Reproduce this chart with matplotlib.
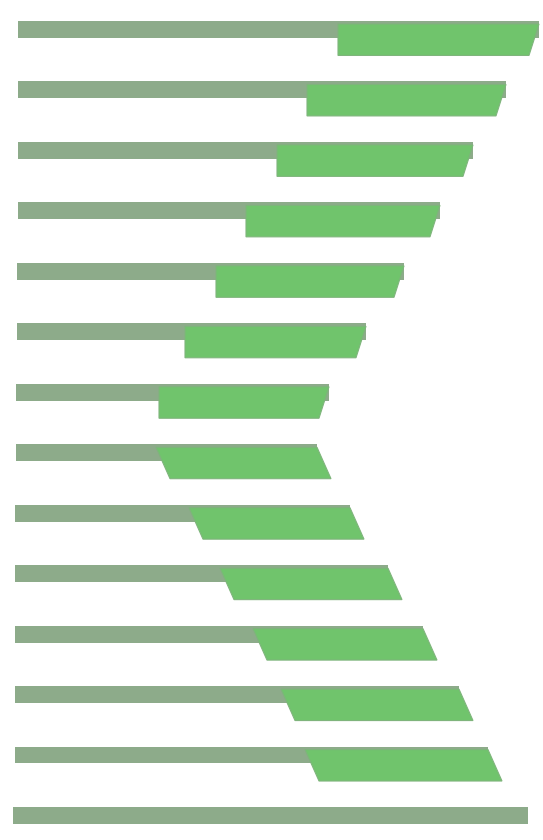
import numpy as np
import matplotlib.pyplot as plt

# one row per bar, top to bottom (x in image-width units, 0..543)
line_start = [18, 18, 18, 18, 17, 17, 16, 16, 15, 15, 15, 15, 15, 13]
bar_start = [338, 307, 277, 246, 216, 185, 159, 156, 189, 220, 253, 281, 305, None]
bar_end = [539, 506, 473, 440, 404, 366, 329, 317, 350, 388, 423, 459, 488, 528]

GRAY = "#8dab8a"
GREEN = "#70c46c"
EDGE = "#7fb47c"

rows = np.arange(len(bar_end))

fig = plt.figure(figsize=(5.43, 8.40), dpi=100)
ax = fig.add_axes([0, 0, 1, 1])

line_h = 0.28   # thin grey strip
bar_top = 0.05
bar_bot = 0.57
lean = 10       # slant of the bar ends

# thin grey strips, full length
ax.barh(rows, np.array(bar_end) - np.array(line_start), left=line_start,
        height=line_h, align="edge", color=GRAY, zorder=2)

# thicker green blocks with slanted ends
for i, (s, e) in enumerate(zip(bar_start, bar_end)):
    if s is None:
        continue
    if i < 7:
        # upper half: left edge straight, right edge leans inwards
        xs = [s, e, e - lean, s]
    else:
        # lower half: both edges lean outwards at the bottom
        xs = [s, e, e + 1.4 * lean, s + 1.4 * lean]
    ys = [i + bar_top, i + bar_top, i + bar_bot, i + bar_bot]
    ax.fill(xs, ys, color=GREEN, ec=EDGE, lw=0.8, zorder=3)

ax.set_xlim(0, 543)
ax.set_ylim(13 + 33 / 60.5, -21 / 60.5)
ax.axis("off")

fig.savefig("out.png", dpi=100, facecolor="white")
